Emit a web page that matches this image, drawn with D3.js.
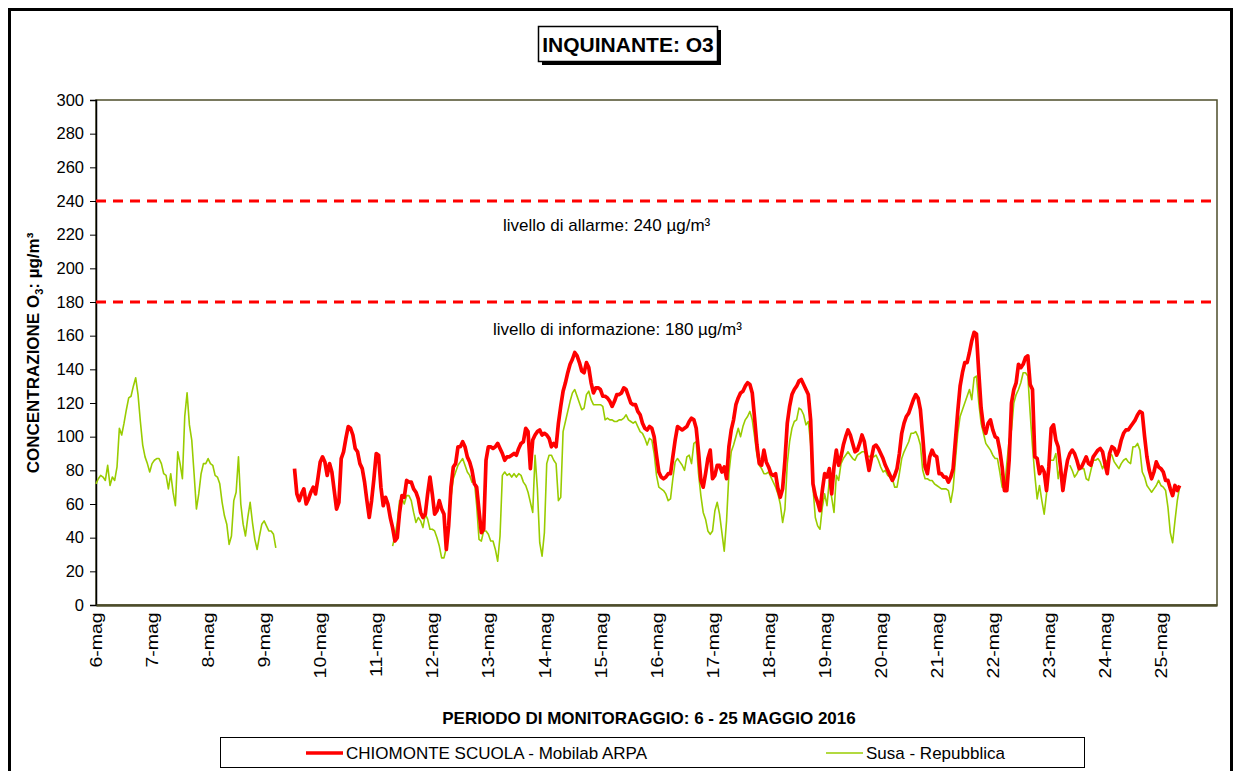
<!DOCTYPE html>
<html>
<head>
<meta charset="utf-8">
<script src="https://cdn.jsdelivr.net/npm/d3@7/dist/d3.min.js"></script>
<style>
  body { margin: 0; background: #fff; }
  svg { font-family: "Liberation Sans", Arial, sans-serif; }
</style>
</head>
<body>
<svg id="chart" width="1239" height="771"></svg>
<script>
// day labels on the x axis (one per day, 6 - 25 May 2016)
const dayLabels = ['6-mag', '7-mag', '8-mag', '9-mag', '10-mag', '11-mag', '12-mag', '13-mag',
  '14-mag', '15-mag', '16-mag', '17-mag', '18-mag', '19-mag', '20-mag', '21-mag', '22-mag',
  '23-mag', '24-mag', '25-mag'];

const yTicks = [0, 20, 40, 60, 80, 100, 120, 140, 160, 180, 200, 220, 240, 260, 280, 300];

// hourly O3 (µg/m³), hour 0 = 6 May 00:00, one row per day
const N = null;
const chiomonte = [
  N, N, N, N, N, N, N, N, N, N, N, N, N, N, N, N, N, N, N, N, N, N, N, N,
  N, N, N, N, N, N, N, N, N, N, N, N, N, N, N, N, N, N, N, N, N, N, N, N,
  N, N, N, N, N, N, N, N, N, N, N, N, N, N, N, N, N, N, N, N, N, N, N, N,
  N, N, N, N, N, N, N, N, N, N, N, N, N, 81, 66, 62, 66, 69, 60, 63, 67, 70, 66, 75,
  85, 88, 85, 77, 84, 79, 68, 57, 61, 87, 91, 99, 106, 105, 101, 93, 91, 84, 81, 73, 62, 52, 62, 75,
  90, 89, 70, 59, 64, 60, 52, 46, 38, 40, 55, 65, 64, 74, 73, 73, 69, 67, 63, 55, 52, 54, 66, 76,
  66, 54, 56, 62, 57, 54, 33, 47, 70, 82, 84, 94, 94, 97, 94, 88, 85, 80, 72, 70, 56, 43, 45, 86,
  94, 94, 93, 94, 96, 93, 90, 86, 88, 88, 89, 90, 89, 93, 96, 97, 105, 103, 81, 98, 101, 103, 104, 101,
  102, 101, 99, 94, 96, 94, 108, 118, 127, 132, 138, 143, 146, 150, 148, 144, 139, 138, 144, 141, 132, 126, 129, 129,
  128, 124, 124, 123, 121, 118, 121, 125, 125, 126, 129, 128, 124, 120, 119, 119, 115, 113, 108, 105, 104, 106, 105, 100,
  89, 79, 76, 75, 76, 78, 78, 88, 98, 106, 105, 104, 105, 106, 109, 111, 110, 105, 91, 74, 70, 78, 87, 92,
  75, 77, 83, 83, 79, 82, 75, 94, 104, 110, 119, 123, 126, 127, 130, 132, 131, 126, 111, 95, 84, 83, 92, 85,
  82, 78, 77, 78, 69, 64, 69, 86, 108, 118, 125, 128, 130, 133, 134, 131, 128, 125, 110, 72, 65, 61, 56, 68,
  78, 76, 81, 66, 82, 92, 83, 88, 95, 100, 104, 101, 96, 91, 92, 96, 101, 97, 88, 80, 87, 94, 95, 93,
  90, 87, 83, 80, 77, 74, 77, 81, 90, 102, 108, 112, 114, 118, 122, 125, 123, 116, 100, 82, 78, 88, 92, 89,
  88, 78, 78, 76, 76, 73, 76, 81, 98, 115, 130, 138, 144, 144, 150, 157, 162, 161, 138, 117, 106, 102, 108, 110,
  104, 100, 99, 92, 82, 68, 68, 86, 120, 128, 132, 143, 141, 143, 147, 148, 131, 128, 88, 87, 78, 82, 79, 68,
  82, 105, 107, 98, 94, 82, 68, 78, 86, 90, 92, 90, 86, 81, 82, 85, 88, 84, 83, 88, 90, 92, 93, 91,
  84, 78, 90, 94, 93, 89, 92, 98, 102, 104, 104, 106, 108, 110, 113, 115, 114, 100, 88, 80, 75, 79, 85, 82,
  81, 79, 74, 74, 69, 65, 71, 68, 71
];

const susa = [
  72, 75, 77, 76, 74, 83, 71, 76, 74, 82, 105, 101, 108, 116, 123, 124, 130, 135, 125, 109, 95, 88, 84, 79,
  84, 86, 87, 87, 84, 78, 77, 69, 78, 67, 59, 91, 84, 75, 112, 126, 107, 98, 78, 57, 66, 78, 84, 84,
  87, 84, 83, 77, 76, 72, 61, 53, 48, 36, 41, 62, 67, 88, 60, 48, 41, 52, 61, 49, 39, 33, 41, 48,
  50, 47, 44, 44, 42, 34, N, N, N, N, N, N, N, N, N, N, N, N, N, N, N, N, N, N,
  N, N, N, N, N, N, N, N, N, N, N, N, N, N, N, N, N, N, N, N, N, N, N, N,
  N, N, N, N, N, N, N, 35, 41, 49, 62, 63, 60, 65, 65, 62, 55, 49, 52, 50, 46, 54, 51, 45,
  45, 44, 40, 35, 28, 28, 34, 47, 64, 75, 79, 83, 85, 87, 83, 79, 77, 73, 74, 59, 39, 38, 44, 44,
  42, 38, 38, 33, 26, 41, 77, 79, 77, 78, 76, 78, 76, 78, 77, 73, 71, 67, 61, 55, 89, 69, 37, 29,
  43, 84, 89, 89, 86, 84, 62, 64, 103, 109, 115, 121, 126, 128, 124, 120, 116, 117, 125, 127, 122, 119, 119, 119,
  119, 118, 110, 111, 110, 110, 109, 109, 110, 110, 111, 113, 110, 109, 108, 109, 106, 103, 102, 99, 95, 99, 98, 90,
  77, 70, 69, 68, 66, 62, 63, 75, 85, 87, 85, 83, 80, 88, 89, 84, 96, 97, 78, 65, 55, 51, 44, 42,
  44, 56, 61, 54, 43, 32, 50, 78, 91, 95, 100, 105, 100, 106, 110, 112, 115, 110, 100, 89, 83, 81, 78, 78,
  79, 76, 73, 70, 66, 60, 49, 57, 84, 97, 105, 109, 110, 117, 116, 113, 107, 109, 96, 70, 52, 47, 45, 58,
  66, 59, 74, 64, 55, 77, 74, 84, 87, 89, 91, 89, 87, 86, 89, 90, 91, 91, 89, 88, 89, 88, 89, 86,
  82, 79, 80, 77, 76, 75, 70, 70, 78, 87, 91, 94, 97, 102, 102, 103, 100, 95, 80, 75, 75, 74, 74, 72,
  71, 70, 69, 69, 69, 68, 61, 69, 86, 102, 112, 116, 120, 124, 128, 122, 135, 136, 120, 108, 102, 96, 94, 92,
  89, 87, 87, 79, 70, 69, 84, 98, 104, 120, 125, 128, 132, 138, 138, 136, 114, 94, 77, 63, 71, 62, 54, 66,
  86, 86, 86, 90, 75, 84, N, N, N, 83, 80, 76, 78, 81, 81, 81, 75, 74, 80, 86, 86, 87, 85, 81,
  84, 86, 90, 89, 85, 83, 81, 84, 86, 87, 85, 84, 94, 94, 96, 92, 79, 76, 71, 69, 67, 69, 71, 74,
  71, 70, 68, 58, 43, 37, 50, 62, 70
];

const thresholdValues = [240, 180];
const thresholdLabels = ['livello di allarme: 240 µg/m³', 'livello di informazione: 180 µg/m³'];

const seriesNames = ['CHIOMONTE SCUOLA - Mobilab ARPA', 'Susa - Repubblica'];

const margin = { top: 100, right: 22, bottom: 166, left: 96 };
const W = 1239;
const H = 771;
const width = W - margin.left - margin.right;
const height = H - margin.top - margin.bottom;
const FONT = '"Liberation Sans", Arial, sans-serif';

const svg = d3.select('#chart');

// outer frame
svg.append('rect')
  .attr('x', 9.5).attr('y', 9.5)
  .attr('width', 1222).attr('height', 775)
  .attr('fill', 'none')
  .attr('stroke', '#000')
  .attr('stroke-width', 3);

// title box with shadow
svg.append('rect')
  .attr('x', 542).attr('y', 30)
  .attr('width', 179).attr('height', 35)
  .attr('fill', '#000');
svg.append('rect')
  .attr('x', 538.5).attr('y', 26.5)
  .attr('width', 179).attr('height', 35)
  .attr('fill', '#fff')
  .attr('stroke', '#000')
  .attr('stroke-width', 1.5);
svg.append('text')
  .attr('x', 628).attr('y', 52)
  .attr('text-anchor', 'middle')
  .attr('font-size', 21)
  .attr('font-weight', 'bold')
  .text('INQUINANTE: O3');

const start = new Date(2016, 4, 6, 0);
const end = new Date(2016, 4, 26, 0);
const hourDate = h => new Date(2016, 4, 6, h);

const x = d3.scaleTime().domain([start, end]).range([0, width]);
const y = d3.scaleLinear().domain([0, 300]).range([height, 0]);

const g = svg.append('g')
  .attr('transform', `translate(${margin.left}, ${margin.top})`);

// plot frame
g.append('rect')
  .attr('width', width).attr('height', height)
  .attr('fill', 'none')
  .attr('stroke', '#4d4d2a')
  .attr('stroke-width', 1.5);

// Y axis
const yAxis = g.append('g')
  .call(d3.axisLeft(y).tickValues(yTicks).tickSize(6).tickPadding(6));
yAxis.select('.domain').attr('stroke', '#000').attr('stroke-width', 1.5);
yAxis.selectAll('.tick line').attr('stroke', '#000');
yAxis.selectAll('text')
  .attr('font-size', 16.5)
  .attr('fill', '#000')
  .attr('font-family', FONT);

// X axis: one label per day, rotated
const dayTicks = dayLabels.map((d, i) => hourDate(i * 24));
const xAxis = g.append('g')
  .attr('transform', `translate(0, ${height})`)
  .call(d3.axisBottom(x).tickValues(dayTicks).tickSize(0)
    .tickFormat((d, i) => dayLabels[i]));
xAxis.select('.domain').attr('stroke', '#4d4d2a').attr('stroke-width', 2.5);
xAxis.selectAll('text')
  .attr('font-size', 16)
  .attr('fill', '#000')
  .attr('font-family', FONT)
  .attr('text-anchor', 'end')
  .attr('transform', 'rotate(-90) scale(1.22, 1)')
  .attr('x', -6)
  .attr('y', 0)
  .attr('dy', '0.35em');

// threshold lines
thresholdValues.forEach(v => {
  g.append('line')
    .attr('x1', 0).attr('x2', width)
    .attr('y1', y(v)).attr('y2', y(v))
    .attr('stroke', '#ff0000')
    .attr('stroke-width', 3)
    .attr('stroke-dasharray', '10,7');
});
g.append('text')
  .attr('x', 407).attr('y', y(thresholdValues[0]) + 30)
  .attr('font-size', 17)
  .text(thresholdLabels[0]);
g.append('text')
  .attr('x', 397).attr('y', y(thresholdValues[1]) + 33)
  .attr('font-size', 17)
  .text(thresholdLabels[1]);

// lines
const line = d3.line()
  .defined(d => d !== null)
  .x((d, i) => x(hourDate(i)))
  .y(d => y(d));

g.append('path')
  .datum(susa)
  .attr('d', line)
  .attr('fill', 'none')
  .attr('stroke', '#99cc00')
  .attr('stroke-width', 1.6)
  .attr('stroke-linejoin', 'round');

g.append('path')
  .datum(chiomonte)
  .attr('d', line)
  .attr('fill', 'none')
  .attr('stroke', '#ff0000')
  .attr('stroke-width', 3.7)
  .attr('stroke-linejoin', 'round');

// axis titles
const yTitle = svg.append('text')
  .attr('transform', 'translate(39, 353) rotate(-90)')
  .attr('text-anchor', 'middle')
  .attr('font-size', 17)
  .attr('font-weight', 'bold');
yTitle.append('tspan').text('CONCENTRAZIONE O');
yTitle.append('tspan').attr('font-size', 11).attr('dy', 4).text('3');
yTitle.append('tspan').attr('dy', -4).text(': µg/m³');

svg.append('text')
  .attr('x', 649).attr('y', 724)
  .attr('text-anchor', 'middle')
  .attr('font-size', 17)
  .attr('font-weight', 'bold')
  .text('PERIODO DI MONITORAGGIO: 6 - 25 MAGGIO 2016');

// legend
const legend = svg.append('g');
legend.append('rect')
  .attr('x', 220.5).attr('y', 737.5)
  .attr('width', 864).attr('height', 30)
  .attr('fill', '#fff')
  .attr('stroke', '#000')
  .attr('stroke-width', 1);
const legendItems = [
  { name: seriesNames[0], color: '#ff0000', w: 3.7, x0: 306 },
  { name: seriesNames[1], color: '#99cc00', w: 1.6, x0: 826 },
];
legendItems.forEach(it => {
  legend.append('line')
    .attr('x1', it.x0).attr('x2', it.x0 + 37)
    .attr('y1', 753).attr('y2', 753)
    .attr('stroke', it.color)
    .attr('stroke-width', it.w);
  legend.append('text')
    .attr('x', it.x0 + 40).attr('y', 759)
    .attr('font-size', 17)
    .text(it.name);
});
</script>
</body>
</html>
